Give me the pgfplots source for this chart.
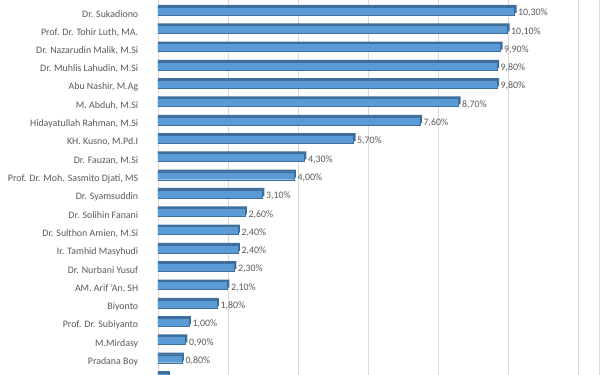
\documentclass[border=0pt]{standalone}
\usepackage{fontspec}
\setmainfont{Carlito}
\usepackage{pgfplots}
\usepackage{pgfplotstable}
\pgfplotsset{compat=1.18}
\definecolor{barblue}{RGB}{91,155,213}
\definecolor{baredge}{RGB}{62,110,155}
\definecolor{gridgray}{RGB}{217,217,217}
\definecolor{txt}{RGB}{89,89,89}
\pgfplotstableread{
i v lab
0 10.3 10,30
1 10.1 10,10
2 9.9 9,90
3 9.8 9,80
4 9.8 9,80
5 8.7 8,70
6 7.6 7,60
7 5.7 5,70
8 4.3 4,30
9 4.0 4,00
10 3.1 3,10
11 2.6 2,60
12 2.4 2,40
13 2.4 2,40
14 2.3 2,30
15 2.1 2,10
16 1.8 1,80
17 1.0 1,00
18 0.9 0,90
19 0.8 0,80
}\datatab
\begin{document}
\begin{tikzpicture}
\path[use as bounding box] (0pt,0pt) rectangle (600pt,375pt);
\begin{axis}[
  at={(158pt,0pt)}, anchor=south west,
  scale only axis, width=442pt, height=375pt,
  xmin=0, xmax=12.6286, ymin=-0.765, ymax=19.727,
  y dir=reverse,
  xbar, bar width=8pt,
  axis line style={draw=none},
  xmajorgrids, grid style={gridgray, line width=0.8pt},
  xtick={0,2,...,12}, xticklabels={},
  extra x ticks={12.6}, extra x tick labels={}, extra x tick style={grid=major},
  tick style={draw=none},
  ytick={0,...,19},
  yticklabels={{Dr. Sukadiono},{Prof. Dr. Tohir Luth, MA.},{Dr. Nazarudin Malik, M.Si},{Dr. Muhlis Lahudin, M.Si},{Abu Nashir, M.Ag},{M. Abduh, M.Si},{Hidayatullah Rahman, M.Si},{KH. Kusno, M.Pd.I},{Dr. Fauzan, M.Si},{Prof. Dr. Moh. Sasmito Djati, MS},{Dr. Syamsuddin},{Dr. Solihin Fanani},{Dr. Sulthon Amien, M.Si},{Ir. Tamhid Masyhudi},{Dr. Nurbani Yusuf },{AM. Arif 'An, SH},{Biyonto},{Prof. Dr. Subiyanto},{M.Mirdasy},{Pradana Boy}},
  yticklabel style={font=\fontsize{9.9}{11}\selectfont, text=txt, xshift=-12pt},
]
\addplot[bar shift=0pt, draw=none, fill=baredge, xshift=-2pt, yshift=5pt] table[x=v, y=i] {\datatab};
\addplot[bar shift=0pt, draw=none, fill=baredge, xshift=-2pt, yshift=5pt] coordinates {(0.4,20)};
\addplot[bar shift=0pt, draw=baredge, line width=0.3pt, fill=barblue, xshift=-4pt, yshift=3pt,
  point meta=explicit symbolic,
  nodes near coords={\pgfplotspointmeta\%},
  nodes near coords style={anchor=west, inner sep=1.5pt, font=\fontsize{9.9}{11}\selectfont, text=txt, yshift=-2pt, xshift=2pt}
] table[x=v, y=i, meta=lab] {\datatab};
\addplot[bar shift=0pt, draw=baredge, line width=0.3pt, fill=barblue, xshift=-4pt, yshift=3pt] coordinates {(0.4,20)};
\end{axis}
\end{tikzpicture}
\end{document}
